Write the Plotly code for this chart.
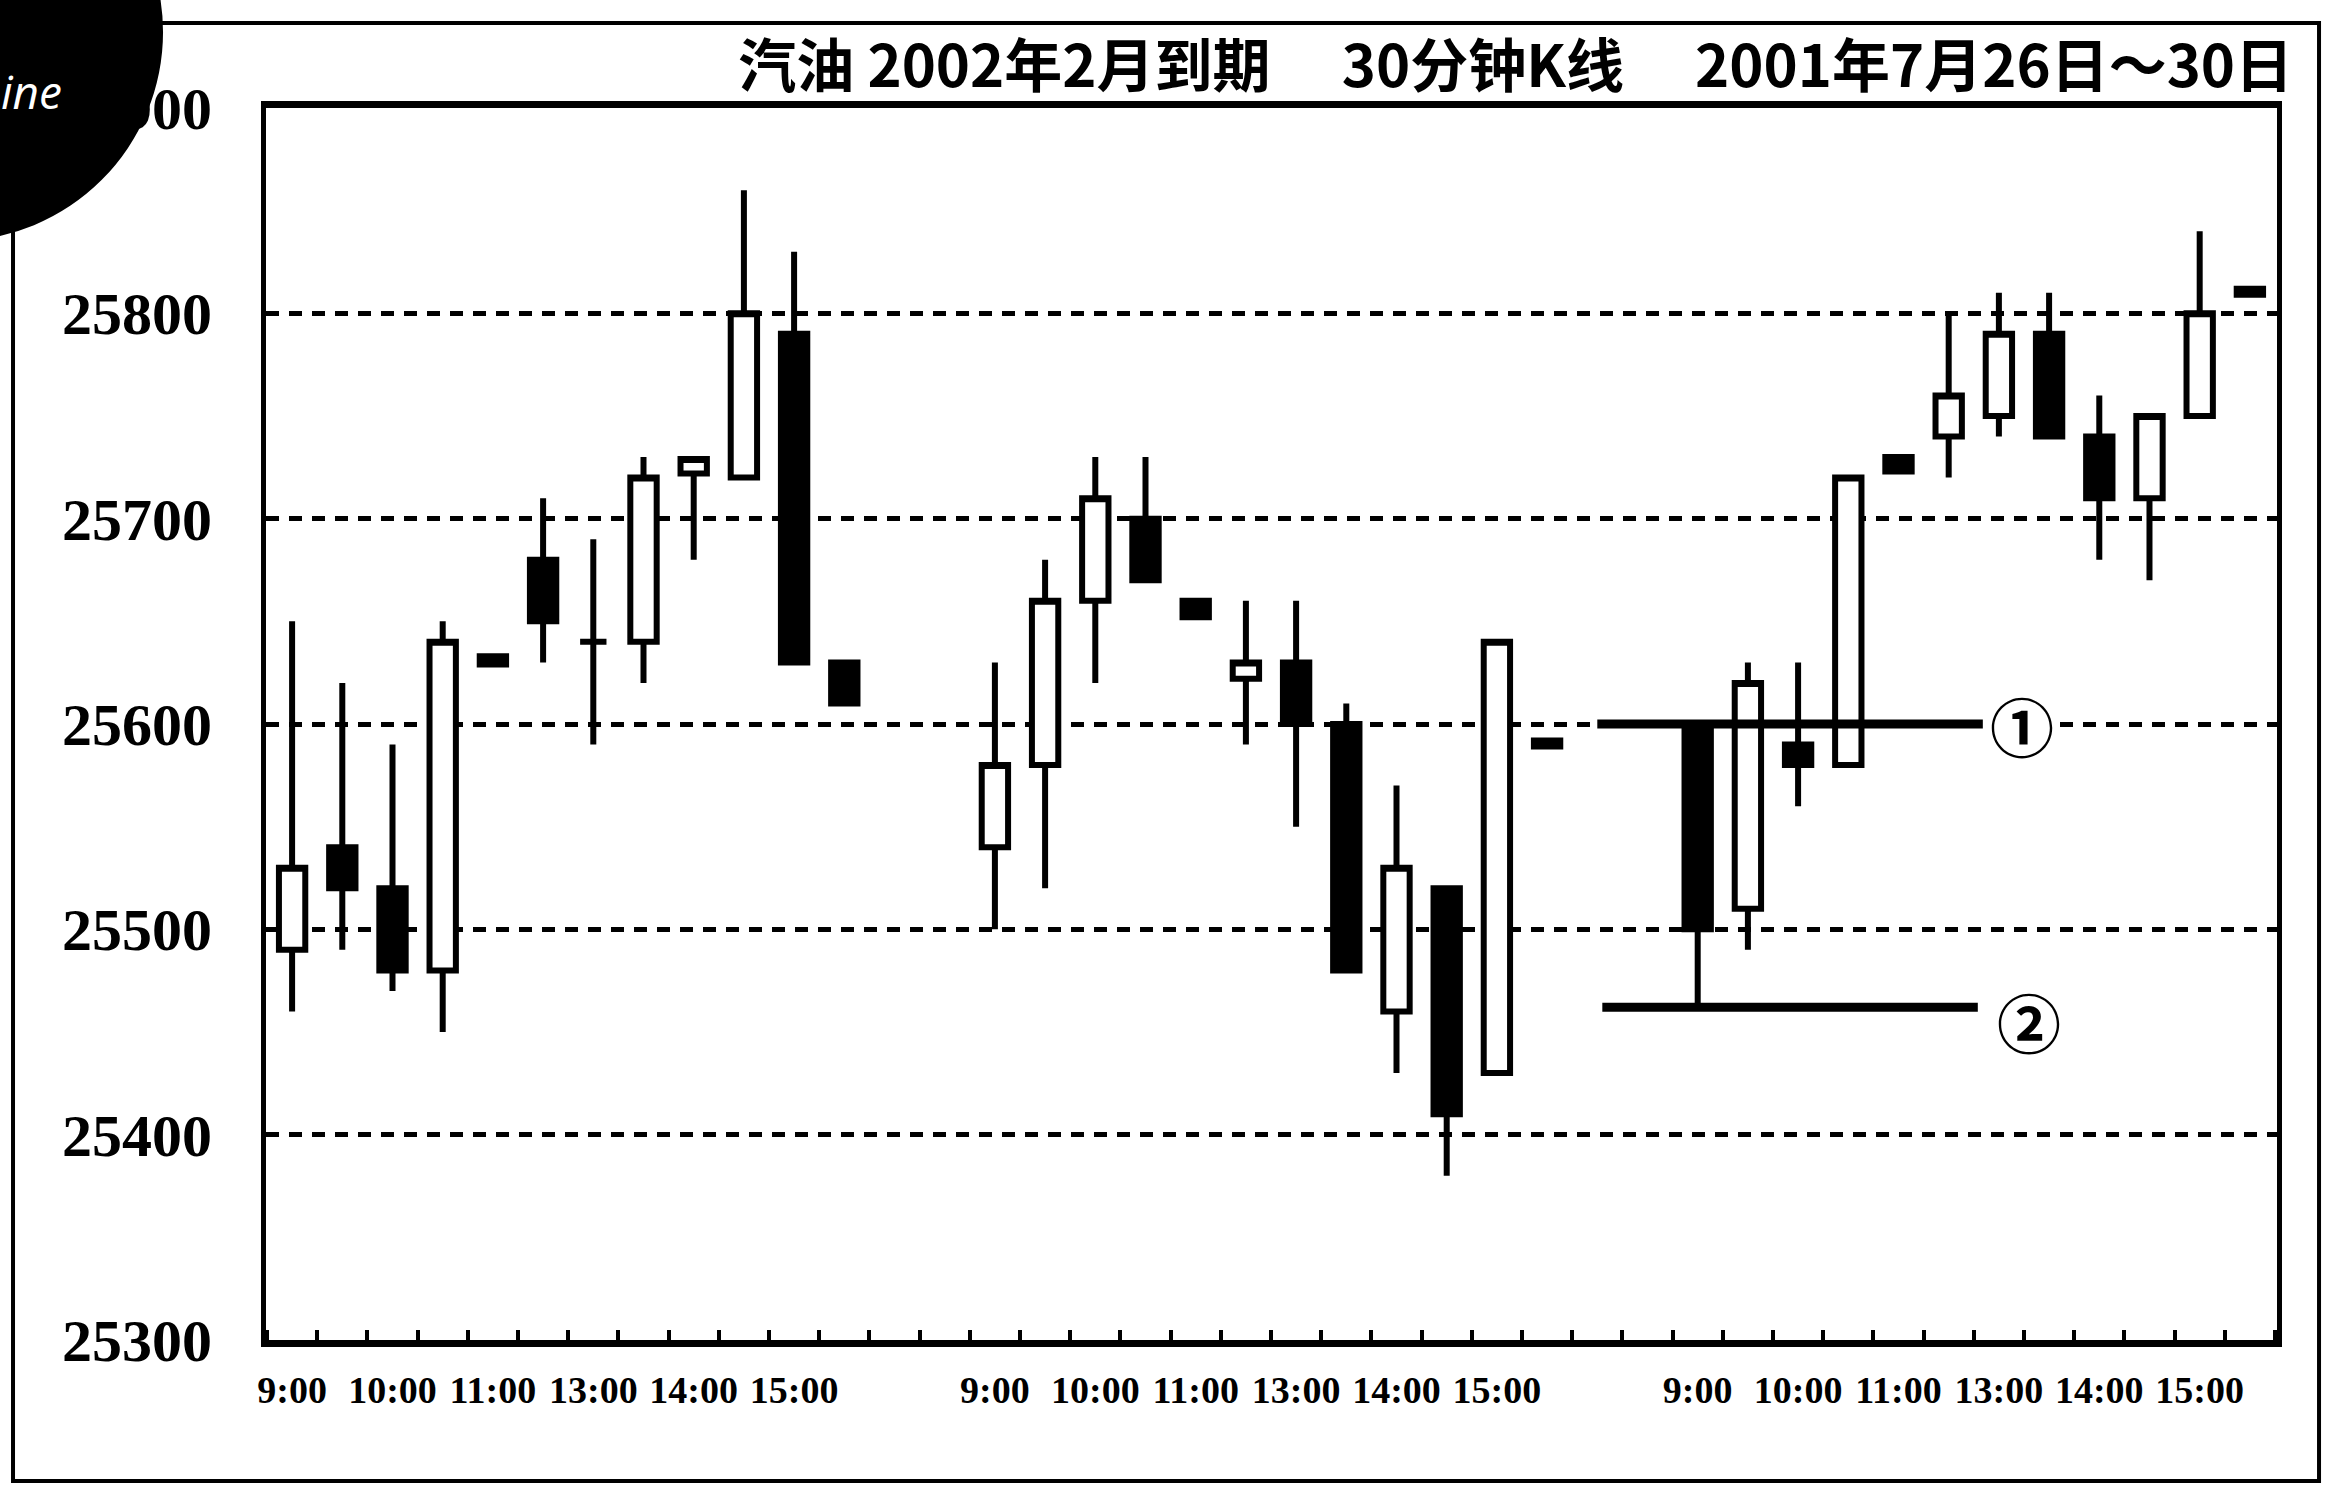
import plotly.graph_objects as go

# ---- data ----
# 30-minute candles, three trading days (2001-07-26, 07-27, 07-30)
day1_open  = [25490, 25540, 25520, 25480, 25633, 25680, 25640, 25640, 25722, 25720, 25790, 25630]
day1_high  = [25650, 25620, 25590, 25650, 25633, 25710, 25690, 25730, 25729, 25860, 25830, 25630]
day1_low   = [25460, 25490, 25470, 25450, 25629, 25630, 25590, 25620, 25680, 25720, 25630, 25610]
day1_close = [25530, 25520, 25480, 25640, 25629, 25650, 25640, 25720, 25729, 25800, 25630, 25610]

day2_open  = [25540, 25580, 25660, 25700, 25660, 25622, 25630, 25600, 25460, 25520, 25430, 25592]
day2_high  = [25630, 25680, 25730, 25730, 25660, 25660, 25660, 25610, 25570, 25520, 25640, 25592]
day2_low   = [25500, 25520, 25620, 25670, 25652, 25590, 25550, 25480, 25430, 25380, 25430, 25589]
day2_close = [25580, 25660, 25710, 25670, 25652, 25630, 25600, 25480, 25530, 25410, 25640, 25589]

day3_open  = [25600, 25510, 25590, 25580, 25730, 25740, 25750, 25790, 25740, 25710, 25750, 25812]
day3_high  = [25600, 25630, 25630, 25720, 25730, 25800, 25810, 25810, 25760, 25750, 25840, 25812]
day3_low   = [25463, 25490, 25560, 25580, 25723, 25720, 25740, 25740, 25680, 25670, 25750, 25809]
day3_close = [25500, 25620, 25580, 25720, 25723, 25760, 25790, 25740, 25710, 25750, 25800, 25809]

time_labels = ["9:00", "10:00", "11:00", "13:00", "14:00", "15:00"]
y_tick_values = [25300, 25400, 25500, 25600, 25700, 25800, 25900]
y_tick_labels = ["25300", "25400", "25500", "25600", "25700", "25800", "25900"]

level_values = [25600, 25462]          # marked lines ① and ②
level_labels = ["①", "②"]

title_text = "汽油 2002年2月到期\u3000 30分钟K线\u3000 2001年7月26日～30日"
badge_text = "ine"

# ---- build positions (12 bars per day, 2 empty slots between days) ----
days = [
    (day1_open, day1_high, day1_low, day1_close),
    (day2_open, day2_high, day2_low, day2_close),
    (day3_open, day3_high, day3_low, day3_close),
]
SLOTS_PER_DAY = 14
xs, o, h, l, c = [], [], [], [], []
tickvals, ticktext = [], []
for d, (do, dh, dl, dc) in enumerate(days):
    base = d * SLOTS_PER_DAY
    for i in range(len(do)):
        xs.append(base + i)
        o.append(do[i]); h.append(dh[i]); l.append(dl[i]); c.append(dc[i])
    for k, lab in enumerate(time_labels):
        tickvals.append(base + 2 * k)
        ticktext.append(lab)

fig = go.Figure()
fig.add_trace(go.Candlestick(
    x=xs, open=o, high=h, low=l, close=c,
    increasing=dict(line=dict(color="black", width=6), fillcolor="white"),
    decreasing=dict(line=dict(color="black", width=6), fillcolor="black"),
    whiskerwidth=0,
    hoverinfo="skip",
    showlegend=False,
))

# horizontal level lines ① ②
line_x = [[26.0, 33.68], [26.1, 33.58]]
for (x0, x1), yv in zip(line_x, level_values):
    fig.add_trace(go.Scatter(
        x=[x0, x1], y=[yv, yv], mode="lines",
        line=dict(color="black", width=9),
        hoverinfo="skip", showlegend=False,
    ))

label_pos = [(34.46, level_values[0]), (34.6, level_values[1] - 6)]
for (lx, ly), txt in zip(label_pos, level_labels):
    fig.add_annotation(
        x=lx, y=ly, xref="x", yref="y", text=txt, showarrow=False,
        font=dict(family="Noto Sans CJK SC", size=64, color="black", weight="bold"),
        bgcolor="white", borderpad=3,
    )

# outer frame of the figure panel
fig.add_shape(type="rect", xref="paper", yref="paper",
              x0=-0.1258, x1=1.0209, y0=-0.1144, y1=1.069,
              line=dict(color="black", width=4), layer="above")
# black round badge in the top-left corner
fig.add_shape(type="circle", xref="paper", yref="paper",
              x0=-0.2591, x1=-0.0512, y0=0.892, y1=1.2313,
              fillcolor="black", line=dict(width=0), layer="above")
fig.add_annotation(
    x=-0.1323, y=1.014, xref="paper", yref="paper", text=badge_text,
    xanchor="left", yanchor="middle", showarrow=False, borderpad=0,
    font=dict(family="Open Sans", size=46, color="white", style="italic"),
)

fig.update_layout(
    width=2328, height=1485,
    margin=dict(l=266, r=51, t=108, b=145),
    paper_bgcolor="white", plot_bgcolor="white",
    boxgap=0.25,
    showlegend=False,
    title=dict(
        text=title_text, xref="container", yref="container",
        x=0.985, xanchor="right", y=0.955, yanchor="middle",
        font=dict(family="Noto Sans CJK SC", size=58, color="black", weight="bold"),
    ),
    xaxis=dict(
        range=[-0.52, 39.54],
        showgrid=False, zeroline=False,
        showline=True, linecolor="black", linewidth=7, mirror=True,
        tickmode="array", tickvals=tickvals, ticktext=ticktext, ticks="",
        ticklabelstandoff=10,
        tickfont=dict(family="Liberation Serif", size=38, color="black", weight="bold"),
        minor=dict(ticks="inside", tickmode="linear", tick0=0.5, dtick=1,
                   ticklen=10, tickwidth=4, tickcolor="black", showgrid=False),
        rangeslider=dict(visible=False),
        fixedrange=True,
    ),
    yaxis=dict(
        range=[25300, 25900],
        tickmode="array", tickvals=y_tick_values, ticktext=y_tick_labels, ticks="",
        showgrid=True, gridcolor="black", gridwidth=5, griddash="13px,10px",
        zeroline=False,
        showline=True, linecolor="black", linewidth=5, mirror=True,
        ticklabelstandoff=37,
        tickfont=dict(family="Liberation Serif", size=60, color="black", weight="bold"),
        fixedrange=True,
    ),
)

fig.write_html("out.html", config={"displayModeBar": False},
               post_script="document.body.style.margin='0px';")
